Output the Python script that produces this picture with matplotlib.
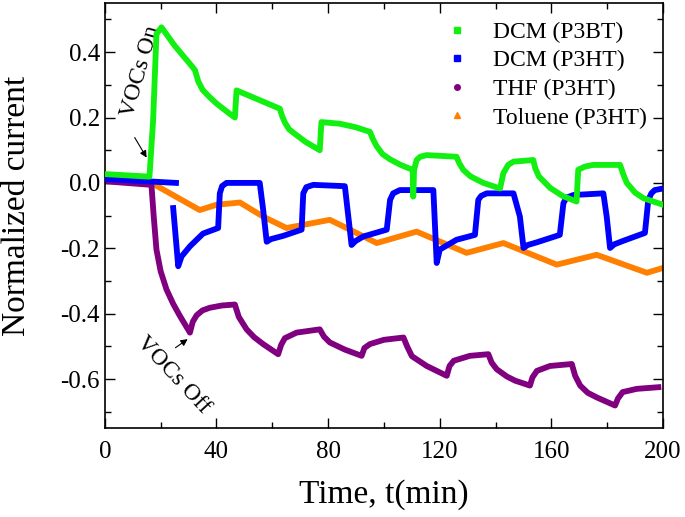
import matplotlib
matplotlib.use("Agg")
import matplotlib.pyplot as plt
from matplotlib.lines import Line2D
from matplotlib.ticker import MultipleLocator

plt.rcParams['font.family'] = ['Liberation Serif', 'DejaVu Serif']

# DCM (P3BT)
green_x = [0, 16, 17.3, 18.5, 20.3, 25, 31, 32.3, 33.5, 35, 37.6, 40, 42.4, 44.5, 46.6,
           47.2, 54.4, 62.7, 63.5, 64.5, 66, 68.7, 72, 77,
           77.6, 84.2, 90, 95, 96, 97.4, 99.5, 102.2, 106, 110.3,
           110.5, 110.8, 111.7, 113, 115.3, 126, 127, 128.4, 131, 135.6, 141.6,
           142.8, 144.5, 146.4, 153.5, 154.2, 155.5, 159.5, 164, 169,
           169.6, 172, 175, 184.6, 185.8, 187, 190, 193, 200]
green_y = [0.027, 0.019, 0.19, 0.455, 0.476, 0.42, 0.359, 0.345, 0.31, 0.285, 0.262, 0.243,
           0.227, 0.213, 0.20,
           0.283, 0.257, 0.227, 0.205, 0.185, 0.164, 0.146, 0.125, 0.10,
           0.186, 0.181, 0.17, 0.156, 0.135, 0.112, 0.088, 0.072, 0.055, 0.04,
           -0.042, 0.04, 0.07, 0.08, 0.085, 0.08, 0.06, 0.04, 0.02, 0.0, -0.017,
           0.03, 0.055, 0.065, 0.07, 0.045, 0.02, -0.015, -0.04, -0.057,
           0.04, 0.05, 0.055, 0.055, 0.025, 0.0, -0.03, -0.047, -0.067]

# DCM (P3HT): short first piece, then the pulsed part
blue1_x = [0, 25.5]
blue1_y = [0.012, 0.0]
blue_x = [24.5, 26.3, 27.5, 30.5, 35.2, 40.6, 41.2, 42, 43.6, 55.5, 56.7, 58,
          59.5, 63.9, 70.5, 71.1, 72.2, 74.7, 86, 87.2, 88.4,
          89.8, 92.6, 101, 102.2, 103.3, 105.7, 117.7, 118.9,
          120, 126, 132.6, 133.8, 134.8, 136.8, 146.4, 148.7, 150,
          151.5, 154.7, 163, 164.3, 165.4, 167.9, 178.6, 179.8, 181,
          182.5, 185.8, 193.5, 194.7, 195.8, 197, 200]
blue_y = [-0.077, -0.255, -0.225, -0.194, -0.155, -0.138, -0.032, -0.01, 0.0, 0.0, -0.08, -0.18,
          -0.172, -0.162, -0.143, -0.032, -0.013, -0.006, -0.01, -0.10, -0.19,
          -0.178, -0.164, -0.143, -0.052, -0.032, -0.022, -0.022, -0.245,
          -0.204, -0.174, -0.159, -0.052, -0.04, -0.032, -0.032, -0.103, -0.199,
          -0.19, -0.182, -0.159, -0.062, -0.045, -0.037, -0.032, -0.103, -0.199,
          -0.188, -0.177, -0.153, -0.052, -0.032, -0.022, -0.017]

# THF (P3HT)
purple_x = [0, 16.7, 17.5, 18.5, 20, 22.1, 24.5, 26.9, 30.5, 31.5, 32.9, 35, 37.6, 42,
            46.6, 48, 50.8, 53.5, 56.7, 62.1, 63.2, 64.5, 68.7, 77, 78.5, 80.6, 86, 92,
            93, 95, 100, 107, 108.3, 110, 115.3, 122.5, 123.5, 125, 130.8, 137.4, 138.6,
            140.4, 144, 147, 152.3, 153.2, 154.8, 159.5, 167.3, 168.5, 170.3, 173, 176.2,
            182.8, 183.8, 185.5, 190.6, 198.3]
purple_y = [0.005, -0.006, -0.1, -0.204, -0.27, -0.326, -0.37, -0.407, -0.458, -0.425,
            -0.405, -0.39, -0.382, -0.375, -0.372, -0.41, -0.448, -0.472, -0.493, -0.524,
            -0.495, -0.475, -0.458, -0.448, -0.47, -0.488, -0.51, -0.529, -0.505, -0.493,
            -0.48, -0.473, -0.5, -0.53, -0.56, -0.59, -0.56, -0.544, -0.529, -0.524,
            -0.55, -0.57, -0.592, -0.605, -0.62, -0.595, -0.575, -0.56, -0.554, -0.59,
            -0.62, -0.642, -0.656, -0.681, -0.66, -0.64, -0.63, -0.625]

# Toluene (P3HT)
orange_x = [0, 16.7, 34, 40, 48.4, 56.7, 65.1, 80.6, 87.8, 97.4, 111.7, 129.6, 142.8,
            161.9, 176.2, 194.2, 200]
orange_y = [0.012, 0.0, -0.083, -0.067, -0.06, -0.103, -0.138, -0.113, -0.143, -0.184,
            -0.149, -0.214, -0.184, -0.25, -0.22, -0.275, -0.26]

labels = ['DCM (P3BT)', 'DCM (P3HT)', 'THF (P3HT)', 'Toluene (P3HT)']
c_green, c_blue, c_purple, c_orange = '#11f011', '#0000ff', '#800080', '#ff8000'

fig = plt.figure(figsize=(6.85, 5.17), dpi=100)
ax = fig.add_axes([0.153, 0.172, 0.815, 0.822])

lw = 4.2
ax.plot(orange_x, orange_y, color=c_orange, lw=lw, zorder=1, solid_joinstyle='round')
ax.plot(purple_x, purple_y, color=c_purple, lw=lw, zorder=2, solid_joinstyle='round')
ax.plot(blue1_x, blue1_y, color=c_blue, lw=lw, zorder=3)
ax.plot(blue_x, blue_y, color=c_blue, lw=lw, zorder=3, solid_joinstyle='round')
ax.plot(green_x, green_y, color=c_green, lw=lw, zorder=4, solid_joinstyle='round')

ax.set_xlim(0, 200)
ax.set_ylim(-0.75, 0.55)
ax.xaxis.set_minor_locator(MultipleLocator(20))
ax.yaxis.set_minor_locator(MultipleLocator(0.1))
ax.set_xticks([0, 40, 80, 120, 160, 200])
ax.set_xticklabels(['0', '40', '80', '120', '160', '200'])
ax.set_yticks([-0.6, -0.4, -0.2, 0.0, 0.2, 0.4])
ax.set_yticklabels(['-0.6', '-0.4', '-0.2', '0.0', '0.2', '0.4'])
ax.tick_params(which='both', direction='in', top=True, right=True, labelsize=18)
ax.tick_params(which='major', length=7, width=1)
ax.tick_params(which='minor', length=4, width=1)
ax.tick_params(axis='x', which='major', pad=9)
for s in ax.spines.values():
    s.set_linewidth(1.2)

ax.set_xlabel('Time, t(min)', fontsize=24, labelpad=12)
ax.set_ylabel('Normalized current', fontsize=24)
ax.yaxis.set_label_coords(-0.13, 0.522)

# annotations
ax.annotate('', xy=(15.5, 0.07), xytext=(10.2, 0.146),
            arrowprops=dict(arrowstyle='-|>', color='black', lw=0.8, mutation_scale=10))
ax.text(13.0, 0.34, 'VOCs On', rotation=74, fontsize=17, ha='center', va='center')
ax.annotate('', xy=(30.5, -0.473), xytext=(24.5, -0.509),
            arrowprops=dict(arrowstyle='-|>', color='black', lw=0.8, mutation_scale=10))
ax.text(24.6, -0.588, 'VOCs Off', rotation=-47, fontsize=17, ha='center', va='center')

handles = [
    Line2D([], [], ls='none', marker='s', color=c_green, markersize=4),
    Line2D([], [], ls='none', marker='s', color=c_blue, markersize=4),
    Line2D([], [], ls='none', marker='o', color=c_purple, markersize=4),
    Line2D([], [], ls='none', marker='^', color=c_orange, markersize=5),
]
ax.legend(handles, labels, loc='upper right', bbox_to_anchor=(1.0, 0.996), frameon=False,
          fontsize=17, handlelength=1.0, handletextpad=1.0, labelspacing=0.3,
          borderaxespad=0.3)

fig.savefig('out.png', dpi=100)
